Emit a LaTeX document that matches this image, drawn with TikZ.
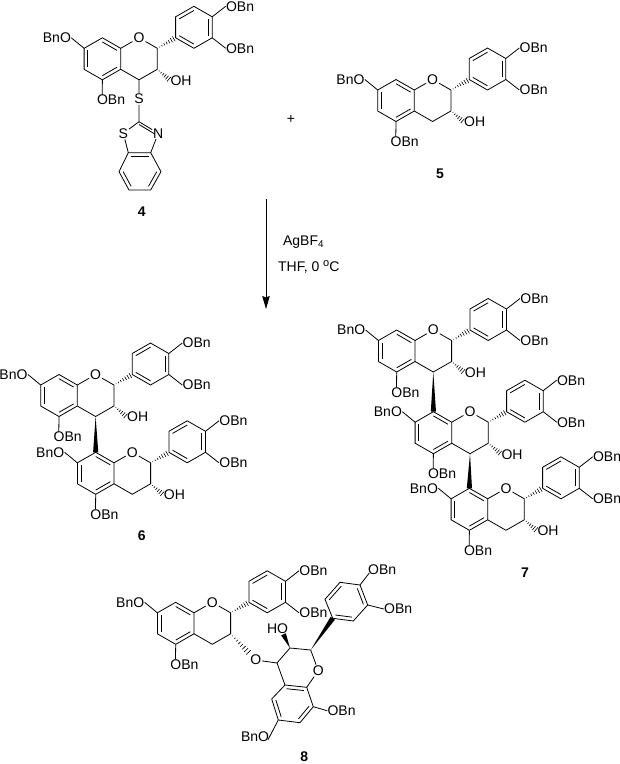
\documentclass[tikz,border=0pt]{standalone}
\usepackage{fontspec}
\setmainfont{Liberation Sans}
\usepackage{tikz}
\usetikzlibrary{arrows.meta, calc}

\tikzset{
    sub/.style={inner sep=0pt, font=\fontsize{14}{16}\selectfont},
    atom/.style={sub, inner sep=.7pt},
    num/.style={inner sep=0pt, font=\fontsize{14}{16}\selectfont\bfseries},
    hash/.style={line width=.6pt}
}
% inner line of a double bond: ends, ring centre
\newcommand{\dbond}[3]{\draw ($(#3)!.8!(#1)$) -- ($(#3)!.8!(#2)$);}
% hashed bond: from, to, positions, spread
\newcommand{\hashbond}[4]{%
    \foreach \t in {#3}
        \draw [hash] ($(#1)!\t!(#2)!\t*#4pt!90:(#2)$) -- ($(#1)!\t!(#2)!\t*#4pt!-90:(#2)$);}
% solid wedge: narrow end, wide end
\newcommand{\wedgebond}[2]{\fill (#1) -- ($(#2)!2.6pt!90:(#1)$) -- ($(#2)!2.6pt!-90:(#1)$) -- cycle;}
% flavan unit: prefix, x and y of the ring-fusion carbon next to O
\newcommand{\flavan}[3]{%
    \begin{scope}[shift={(#2, #3)}]
        % Ring atoms
        \coordinate (#1c8a) at (0, 0);
        \coordinate (#1c8) at (-18.3, -10.5);
        \coordinate (#1c7) at (-36.6, 0);
        \coordinate (#1c6) at (-36.6, 21);
        \coordinate (#1c5) at (-18.3, 31.5);
        \coordinate (#1c4a) at (0, 21);
        \coordinate (#1c4) at (18.3, 31.5);
        \coordinate (#1c3) at (36.6, 21);
        \coordinate (#1c2) at (36.6, 0);
        \coordinate (#1b1) at (54.9, -10.5);
        \coordinate (#1b2) at (73.2, 0);
        \coordinate (#1b3) at (91.5, -10.5);
        \coordinate (#1b4) at (91.5, -31.5);
        \coordinate (#1b5) at (73.2, -42);
        \coordinate (#1b6) at (54.9, -31.5);
        \coordinate (#1ca) at (-18.3, 10.5);
        \coordinate (#1cb) at (73.2, -21);
        % Labels
        \node [atom] (#1o1) at (18.3, -10.5) {O};
        \node [sub, anchor=east] (#1o7) at (-49.4, -10.5) {BnO};
        \node [sub, anchor=north west] (#1o5) at (-24, 46.5) {OBn};
        \node [sub, anchor=west] (#1o3) at (105, 0) {OBn};
        \node [sub, anchor=west] (#1o4) at (105, -42) {OBn};
        % Bonds
        \draw (#1c8a) -- (#1c8) -- (#1c7) -- (#1c6) -- (#1c5) -- (#1c4a) -- cycle;
        \draw (#1c8a) -- (#1o1) -- (#1c2) -- (#1c3) -- (#1c4) -- (#1c4a);
        \draw (#1b1) -- (#1b2) -- (#1b3) -- (#1b4) -- (#1b5) -- (#1b6) -- cycle;
        \draw (#1c7) -- (#1o7.east);
        \draw (#1c5) -- ($(#1o5.north west)+(5.5, 0)$);
        \draw (#1b3) -- (#1o3.west);
        \draw (#1b4) -- (#1o4.west);
        \dbond{#1c7}{#1c6}{#1ca}
        \dbond{#1c8}{#1c8a}{#1ca}
        \dbond{#1c5}{#1c4a}{#1ca}
        \dbond{#1b1}{#1b2}{#1cb}
        \dbond{#1b3}{#1b4}{#1cb}
        \dbond{#1b5}{#1b6}{#1cb}
        \hashbond{#1c2}{#1b1}{.12,.25,.38,.51,.64,.77,.9}{3}
    \end{scope}}
% hydroxyl on the ring carbon of a unit: prefix, x and y
\newcommand{\flavanoh}[3]{%
    \node [sub, anchor=west] (#1oh) at ($(#2, #3)+(49.5, 32)$) {OH};
    \hashbond{#1c3}{#1oh.west}{.15,.3,.45,.6,.75,.9}{3.2}}

\begin{document}
\begin{tikzpicture}[x=1pt, y=-1pt, line width=.8pt, line join=round]
    \useasboundingbox (0, 0) rectangle (620, 764);
    % Compound 4
    \flavan{p}{120.7}{48.3}
    \flavanoh{p}{120.7}{48.3}
    \node [atom] (ps) at (139, 99) {S};
    \node [atom] (ts) at (123.3, 133.3) {S};
    \node [atom] (tn) at (158.3, 133.3) {N};
    \coordinate (tc2) at (139, 121.7);
    \coordinate (tc3a) at (150.7, 152.7);
    \coordinate (tc7a) at (128.3, 152.7);
    \coordinate (tc4) at (161, 171.7);
    \coordinate (tc5) at (150.7, 190);
    \coordinate (tc6) at (129, 190);
    \coordinate (tc7) at (119, 171.7);
    \coordinate (tct) at (139.5, 136);
    \coordinate (tcb) at (139.8, 171.5);
    \draw (pc4) -- (ps) -- (tc2) -- (ts) -- (tc7a) -- (tc3a) -- (tn) -- (tc2);
    \draw (tc7a) -- (tc7) -- (tc6) -- (tc5) -- (tc4) -- (tc3a);
    \dbond{tc2}{tn}{tct}
    \dbond{tc7a}{tc3a}{tcb}
    \dbond{tc7}{tc6}{tcb}
    \dbond{tc4}{tc5}{tcb}
    \node [num] (lab4) at (141.7, 211.7) {4};
    % Plus sign
    \node [sub] (plus) at (291, 119.3) {+};
    % Compound 5
    \flavan{q}{414.3}{90}
    \flavanoh{q}{414.3}{90}
    \node [num] (lab5) at (440, 174) {5};
    % Arrow
    \coordinate (arstart) at (266, 199);
    \coordinate (arend) at (266, 309);
    \draw [-{Stealth[length=13pt, width=7.5pt, inset=1.5pt]}] (arstart) -- (arend);
    \node [sub, anchor=base west] (reag) at (282.7, 245) {AgBF\textsubscript{4}};
    \node [sub, anchor=base west] (cond) at (277.7, 271.5) {THF, 0 \raisebox{5pt}{\fontsize{11}{11}\selectfont o}C};
    % Compound 6
    \flavan{ra}{77.3}{385}
    \flavanoh{ra}{77.3}{385}
    \flavan{rb}{114}{462.8}
    \flavanoh{rb}{114}{462.8}
    \wedgebond{rac4}{rbc8}
    \node [num] (lab6) at (141.7, 535.7) {6};
    % Compound 7
    \flavan{sa}{415}{340.5}
    \flavanoh{sa}{415}{340.5}
    \flavan{sb}{451.7}{422.2}
    \flavanoh{sb}{451.7}{422.2}
    \flavan{sc}{487.7}{498.8}
    \flavanoh{sc}{487.7}{498.8}
    \wedgebond{sac4}{sbc8}
    \wedgebond{sbc4}{scc8}
    \node [num] (lab7) at (525, 572.3) {7};
    % Compound 8, left unit
    \flavan{u}{194}{612.8}
    \node [atom] (ulink) at (255.7, 660) {O};
    \hashbond{uc3}{ulink}{.08,.17,.26,.35,.44,.53,.62,.71}{4.4}
    % Compound 8, right unit
    \coordinate (vc4) at (277, 663);
    \coordinate (vc3) at (290, 648);
    \coordinate (vc2) at (310.7, 650);
    \coordinate (vc8a) at (306.7, 687.3);
    \coordinate (vc4a) at (285, 685);
    \coordinate (vc5) at (271.7, 699);
    \coordinate (vc6) at (278.3, 720);
    \coordinate (vc7) at (300, 722.7);
    \coordinate (vc8) at (313.3, 706.7);
    \coordinate (vca) at (292.5, 703.5);
    \coordinate (vb1) at (332.7, 618.3);
    \coordinate (vb2) at (353.3, 621);
    \coordinate (vb3) at (367.7, 605);
    \coordinate (vb4) at (360, 585);
    \coordinate (vb5) at (340, 582.3);
    \coordinate (vb6) at (325, 599.3);
    \coordinate (vcb) at (346.3, 601.7);
    \node [atom] (vo1) at (318.3, 670.7) {O};
    \node [sub, anchor=east] (vho) at (288.5, 629) {HO};
    \node [sub, anchor=west] (vo8) at (327.2, 710.7) {OBn};
    \node [sub, anchor=east] (vo6) at (269.5, 736.7) {BnO};
    \node [sub, anchor=west] (vo3) at (383.8, 609) {OBn};
    \node [sub, anchor=west] (vo4) at (367.8, 570) {OBn};
    \draw (ulink) -- (vc4) -- (vc3) -- (vc2) -- (vo1) -- (vc8a);
    \draw (vc4) -- (vc4a) -- (vc8a) -- (vc8) -- (vc7) -- (vc6) -- (vc5) -- (vc4a);
    \draw (vb1) -- (vb2) -- (vb3) -- (vb4) -- (vb5) -- (vb6) -- cycle;
    \draw (vc8) -- (vo8.west);
    \draw (vc6) -- ($(vo6.east)+(-1.5, 3)$);
    \draw (vb3) -- (vo3.west);
    \draw (vb4) -- ($(vo4.west)+(1.5, 3)$);
    \dbond{vc4a}{vc8a}{vca}
    \dbond{vc5}{vc6}{vca}
    \dbond{vc7}{vc8}{vca}
    \dbond{vb1}{vb2}{vcb}
    \dbond{vb3}{vb4}{vcb}
    \dbond{vb5}{vb6}{vcb}
    \coordinate (vhoend) at ($(vho.south east)+(-5, 0)$);
    \wedgebond{vc3}{vhoend}
    \wedgebond{vc2}{vb1}
    \node [num] (lab8) at (304.3, 757) {8};
\end{tikzpicture}
\end{document}
